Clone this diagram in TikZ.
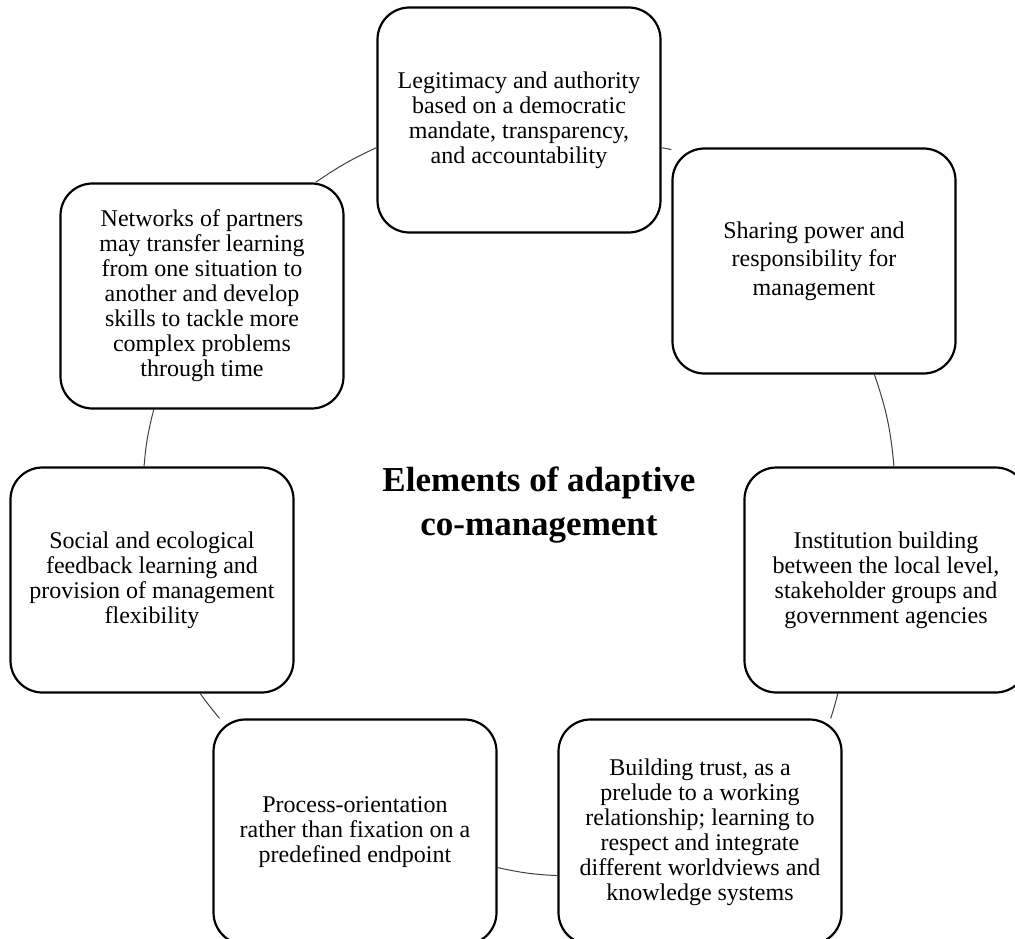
\documentclass[tikz,border=0pt]{standalone}
\usepackage{fontspec}
\setmainfont{Liberation Serif}
\usepackage{tikz}
\tikzstyle{elem} = [rectangle, rounded corners=32pt, minimum width=283pt, minimum height=225pt, draw=black, line width=2.2pt, fill=white, align=center, font=\fontsize{24}{25}\selectfont]
\tikzstyle{elemwide} = [elem, font=\fontsize{24}{28.5}\selectfont]
\tikzstyle{headtext} = [align=center, font=\fontsize{35}{44}\selectfont\bfseries]
\tikzstyle{link} = [draw=black!75, line width=1pt]

\begin{document}
\begin{tikzpicture}[x=1pt, y=1pt]

\useasboundingbox (0, 0) rectangle (1015, -939);
% Centre heading
\node[headtext] (n0) at (539, -505) {Elements of adaptive\\co-management};
% Elements, clockwise from the top
\node[elem] (n1) at (519, -120) {Legitimacy and authority\\based on a democratic\\mandate, transparency,\\and accountability};
\node[elemwide] (n2) at (814, -261) {Sharing power and\\responsibility for\\management};
\node[elem] (n3) at (886, -580) {Institution building\\between the local level,\\stakeholder groups and\\government agencies};
\node[elem] (n4) at (700, -832) {Building trust, as a\\prelude to a working\\relationship; learning to\\respect and integrate\\different worldviews and\\knowledge systems};
\node[elem] (n5) at (355, -832) {Process-orientation\\rather than fixation on a\\predefined endpoint};
\node[elem] (n6) at (152, -580) {Social and ecological\\feedback learning and\\provision of management\\flexibility};
\node[elem] (n7) at (202, -296) {Networks of partners\\may transfer learning\\from one situation to\\another and develop\\skills to tackle more\\complex problems\\through time};
% Cycle arcs
\draw[link] (n7.45) to[bend left=5] (n1.191);
\draw[link] (n1.349) to[bend left=1] (n2.142);
\draw[link] (n2.298) to[bend left=7] (n3.86);
\draw[link] (n3.247) to[bend left=2] (n4.41);
\draw[link] (n4.197) to[bend left=5] (n5.346);
\draw[link] (n5.140) to[bend left=2] (n6.293);
\draw[link] (n6.94) to[bend left=5] (n7.247);
\end{tikzpicture}
\end{document}
